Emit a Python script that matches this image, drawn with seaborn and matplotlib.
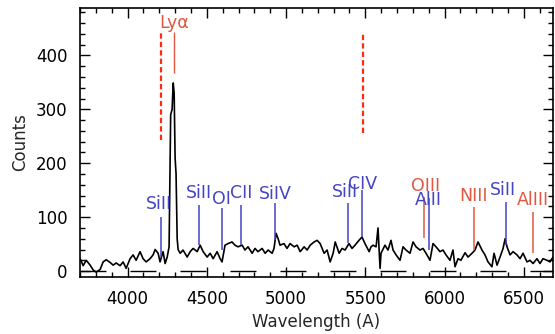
import numpy as np
import pandas as pd
import matplotlib
matplotlib.use("Agg")
import matplotlib.pyplot as plt
import seaborn as sns
from matplotlib.ticker import MultipleLocator

# Observed spectrum (wavelength in Angstrom, counts)
wavelength = [3701, 3720, 3739, 3764, 3783, 3802, 3827, 3846, 3865, 3890,
              3909, 3928, 3953, 3972, 3991, 4016, 4035, 4054, 4079, 4098,
              4117, 4142, 4161, 4174, 4193, 4205, 4224, 4237, 4250, 4262,
              4272, 4281, 4288, 4294, 4300, 4306, 4313, 4319, 4332, 4350,
              4376, 4395, 4414, 4439, 4458, 4477, 4502, 4521, 4540, 4565,
              4584, 4596, 4615, 4634, 4659, 4678, 4697, 4723, 4741, 4760,
              4786, 4804, 4823, 4849, 4868, 4887, 4912, 4924, 4937, 4950,
              4962, 4987, 5006, 5025, 5051, 5070, 5089, 5114, 5133, 5152,
              5177, 5196, 5215, 5240, 5259, 5278, 5297, 5310, 5335, 5353,
              5372, 5397, 5416, 5435, 5460, 5479, 5498, 5524, 5536, 5549,
              5568, 5580, 5593, 5599, 5624, 5643, 5662, 5675, 5694, 5719,
              5738, 5757, 5782, 5801, 5820, 5845, 5864, 5883, 5908, 5927,
              5946, 5971, 5990, 6009, 6034, 6053, 6066, 6085, 6103, 6129,
              6148, 6173, 6192, 6211, 6236, 6255, 6274, 6299, 6312, 6331,
              6350, 6369, 6382, 6394, 6413, 6432, 6457, 6476, 6495, 6520,
              6539, 6558, 6583, 6602, 6621, 6646, 6665, 6684]
counts = [23, 10, 20, 11, 2, -2, 3, 17, 21, 16,
          11, 15, 10, 17, 5, 23, 30, 20, 36, 23,
          17, 23, 30, 40, 33, 17, 36, 14, 26, 45,
          290, 300, 349, 330, 210, 180, 60, 40, 33, 39,
          26, 36, 42, 36, 48, 36, 26, 33, 23, 36,
          23, 17, 48, 51, 54, 48, 45, 48, 39, 45,
          33, 42, 36, 42, 33, 39, 33, 42, 70, 60,
          48, 51, 42, 51, 45, 48, 36, 45, 39, 48,
          54, 57, 51, 33, 39, 17, 33, 54, 33, 42,
          39, 51, 42, 48, 57, 63, 51, 36, 45, 48,
          45, 80, 5, 33, 48, 39, 57, 39, 30, 20,
          45, 39, 33, 54, 45, 39, 42, 33, 20, 51,
          45, 36, 39, 30, 20, 39, 8, 23, 20, 34,
          26, 33, 39, 54, 39, 30, 17, 8, 33, 11,
          26, 42, 60, 45, 30, 36, 30, 23, 33, 17,
          20, 14, 23, 14, 23, 20, 17, 26]

# Identified absorption/emission features
line_names = ["SiII", "SiII", "OI", "CII", "SiIV", "SiII", "CIV",
              "OIII", "AlII", "NIII", "SiII", "AlIII"]
line_wave = [4210, 4451, 4596, 4716, 4931, 5392, 5480,
             5871, 5902, 6186, 6388, 6558]
line_top = [100, 123, 117, 123, 127, 127, 151, 138, 136, 119, 128, 110]
line_bottom = [26, 48, 39, 48, 58, 52, 63, 61, 39, 39, 48, 33]
label_y = [125, 145, 134, 145, 143, 147, 162, 158, 132, 140, 151, 132]
label_dx = [-14, 0, -6, 0, 0, -18, 0, 6, -6, -6, -18, 0]
line_kind = ["blue", "blue", "blue", "blue", "blue", "blue", "blue",
             "red", "blue", "red", "blue", "red"]

lya_wave = 4294
lya_range = (368, 443)
lya_label_y = 461

marker_wave = [4212, 5487]
marker_top = [446, 441]
marker_bottom = [243, 257]

BLUE = "#4444c4"
RED = "#e05840"
DASH_RED = "#ff2a10"

sns.set_theme(style="ticks")
plt.rcParams["font.family"] = ["DejaVu Sans"]

df = pd.DataFrame({"wavelength": wavelength, "counts": counts})

fig = plt.figure(figsize=(5.55, 3.34), dpi=100)
ax = fig.add_axes([80 / 555, 1 - 277 / 334, 473 / 555, 269 / 334])

sns.lineplot(data=df, x="wavelength", y="counts", ax=ax, color="black",
             lw=1.2, estimator=None, sort=False, zorder=3)

# zero level
ax.axhline(0, color="black", lw=1.0, dashes=(18.7, 17.3), zorder=2)

# Lyman-alpha
ax.vlines(lya_wave, *lya_range, color=RED, lw=1.0, zorder=4)
ax.text(lya_wave, lya_label_y, "Ly\u03b1", color=RED, fontsize=12.5,
        ha="center", va="center")

# dashed markers
for w, t, b in zip(marker_wave, marker_top, marker_bottom):
    ax.vlines(w, b, t, color=DASH_RED, lw=1.6, linestyles=(0, (2.4, 1.4)),
              zorder=4)

# feature ticks and names
colors = {"blue": BLUE, "red": RED}
for name, w, t, b, ty, dx, kind in zip(line_names, line_wave, line_top,
                                        line_bottom, label_y, label_dx,
                                        line_kind):
    c = colors[kind]
    ax.vlines(w, b, t, color=c, lw=1.1, zorder=4)
    ax.text(w + dx, ty, name, color=c, fontsize=12.5, ha="center",
            va="center", zorder=5)

ax.set_xlim(3700, 6684)
ax.set_ylim(-11, 488)
ax.xaxis.set_major_locator(MultipleLocator(500))
ax.xaxis.set_minor_locator(MultipleLocator(100))
ax.yaxis.set_major_locator(MultipleLocator(100))
ax.yaxis.set_minor_locator(MultipleLocator(20))
ax.tick_params(which="both", direction="in", top=True, right=True,
               labelsize=12, colors="black", pad=9)
ax.tick_params(which="major", length=7, width=1.0)
ax.tick_params(which="minor", length=3.5, width=1.0)
for s in ax.spines.values():
    s.set_linewidth(1.2)
    s.set_color("black")
ax.set_xlabel("Wavelength (A)", fontsize=12, labelpad=4)
ax.set_ylabel("Counts", fontsize=12, labelpad=5)

fig.savefig("out.png", dpi=100)
